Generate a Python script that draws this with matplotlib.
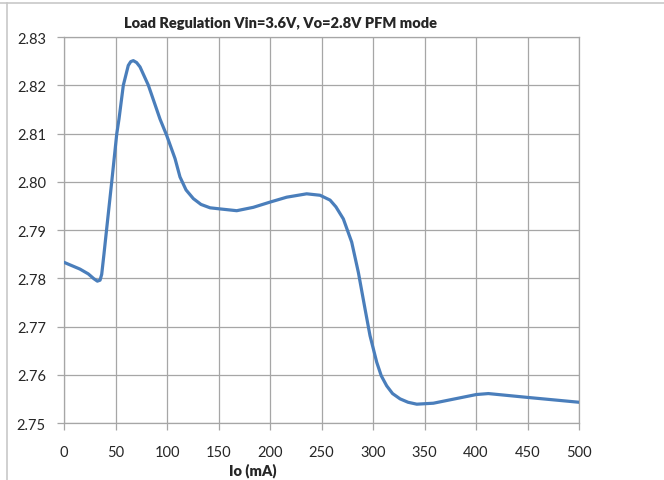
import matplotlib
matplotlib.use("Agg")
from matplotlib import pyplot as plt
from matplotlib.lines import Line2D

# values
io_ma = [0, 15.5, 23.6, 29.0, 32.4, 35.0, 36.6, 38.8, 41.4, 46.3, 51.2, 53.4,
         57.6, 62.4, 64.8, 67.3, 70.5, 73.8, 81.9, 93.2, 99.7, 107.8, 112.6,
         118.5, 125.6, 133.0, 141.8, 150.2, 167.7, 183.8, 200.3, 216.2, 235.6,
         248.6, 258.3, 264.0, 271.2, 279.3, 285.8, 292.3, 297.1, 303.6, 308.0,
         313.3, 319.0, 326.3, 334.0, 342.5, 358.6, 374.8, 400.3, 412.0, 450.2,
         500]
vout = [2.7833, 2.7819, 2.7809, 2.7799, 2.7794, 2.7796, 2.7808, 2.7850, 2.7902,
        2.7999, 2.8099, 2.8130, 2.8200, 2.8241, 2.8249, 2.8251, 2.8247, 2.8238,
        2.8200, 2.8130, 2.8096, 2.8048, 2.8010, 2.7983, 2.7965, 2.7953, 2.7946,
        2.7944, 2.7940, 2.7947, 2.7958, 2.7968, 2.7975, 2.7972, 2.7962, 2.7948,
        2.7923, 2.7875, 2.7812, 2.7736, 2.7681, 2.7626, 2.7598, 2.7577, 2.7561,
        2.7550, 2.7543, 2.7539, 2.7541, 2.7548, 2.7559, 2.7561, 2.7553, 2.7543]

x_ticks = [0, 50, 100, 150, 200, 250, 300, 350, 400, 450, 500]
y_ticks = [2.75, 2.76, 2.77, 2.78, 2.79, 2.80, 2.81, 2.82, 2.83]

title = 'Load Regulation Vin=3.6V, Vo=2.8V PFM mode'
xlabel = 'Io (mA)'

plt.rcParams['font.family'] = ['Lato', 'DejaVu Sans']

fig = plt.figure(figsize=(6.64, 4.81), dpi=100)
ax = fig.add_axes([64/664, 1-424/481, (579-64)/664, (424-38)/481])

grid_c = '#a6a6a6'
ax.plot(io_ma, vout, color='#4a7ebb', lw=2.3, solid_capstyle='round',
        solid_joinstyle='round', zorder=3)

ax.set_xlim(0, 500)
ax.set_ylim(2.75, 2.83)
ax.set_xticks(x_ticks)
ax.set_yticks(y_ticks)
ax.set_yticklabels(['%.2f' % v for v in y_ticks])
ax.grid(True, color=grid_c, lw=0.9)
ax.set_axisbelow(True)
for s in ax.spines.values():
    s.set_color(grid_c)
    s.set_linewidth(0.9)
ax.tick_params(axis='both', colors=grid_c, labelcolor='#262626', labelsize=10.5,
               width=0.9)
ax.tick_params(axis='y', length=5, pad=8)
ax.tick_params(axis='x', length=5, pad=11)

fig.text(281/664, 1-23/481, title, ha='center', va='center',
         fontsize=10.5, fontweight='heavy', color='#262626')
fig.text(253/664, 1-471/481, xlabel, ha='center', va='center',
         fontsize=10.5, fontweight='heavy', color='#262626')

# chart border (top and left visible)
fig.add_artist(Line2D([0, 1], [1-4/481, 1-4/481], color='#c8c8c8', lw=1.2,
                      transform=fig.transFigure))
fig.add_artist(Line2D([7/664, 7/664], [0, 1-4/481], color='#c8c8c8', lw=1.2,
                      transform=fig.transFigure))

fig.savefig('out.png', dpi=100)
